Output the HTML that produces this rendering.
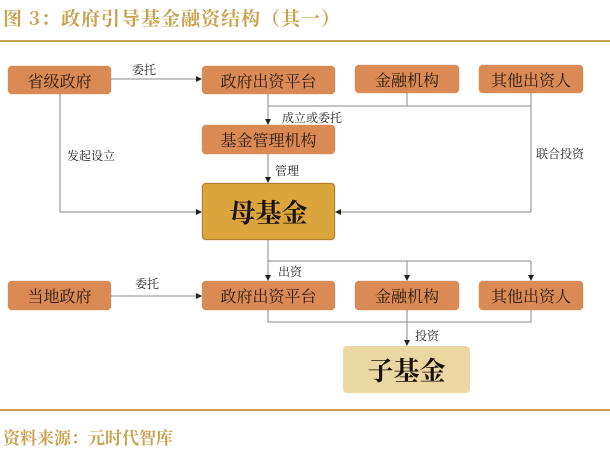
<!DOCTYPE html>
<html><head><meta charset="utf-8"><style>
body{margin:0;width:610px;height:451px;background:#fff;position:relative;overflow:hidden;font-family:"Liberation Serif","Noto Serif CJK SC",serif}
.t{position:absolute;white-space:nowrap}
.b{position:absolute;background:#d98a55;border-radius:4px;color:#2a1a10;font-size:16px;display:flex;align-items:center;justify-content:center;font-family:"Noto Serif CJK SC",serif;box-shadow:0 0 1px #b86a3a}
.l{font-size:12px;color:#222;font-family:"Noto Serif CJK SC",serif}
</style></head><body>
<div class="t" style="left:3px;top:4px;font-size:19px;color:#c9a24e;font-family:'Noto Serif CJK SC',serif;font-weight:bold;letter-spacing:1px">图 3：政府引导基金融资结构（其一）</div>
<div style="position:absolute;left:0;top:40px;width:610px;height:2px;background:#c9a24e"></div>
<svg width="610" height="451" style="position:absolute;left:0;top:0">
<defs><marker id="a" markerWidth="6" markerHeight="6" refX="5" refY="3" orient="auto"><path d="M0,0L6,3L0,6z" fill="#222"/></marker></defs>
<g stroke="#888" stroke-width="1" fill="none">
<line x1="111" y1="79" x2="201" y2="79" marker-end="url(#a)"/>
<line x1="268" y1="94" x2="268" y2="124" marker-end="url(#a)"/>
<polyline points="268,106 531,106"/>
<line x1="407" y1="93" x2="407" y2="106"/><line x1="531" y1="93" x2="531" y2="106"/>
<line x1="268" y1="154" x2="268" y2="182" marker-end="url(#a)"/>
<polyline points="60,94 60,212 201,212" marker-end="url(#a)"/>
<polyline points="531,106 531,212 336,212" marker-end="url(#a)"/>
<line x1="268" y1="240" x2="268" y2="280" marker-end="url(#a)"/>
<polyline points="268,261 531,261"/>
<line x1="407" y1="261" x2="407" y2="280" marker-end="url(#a)"/>
<line x1="531" y1="261" x2="531" y2="280" marker-end="url(#a)"/>
<line x1="111" y1="296" x2="201" y2="296" marker-end="url(#a)"/>
<polyline points="268,310 268,322 531,322 531,310"/>
<line x1="407" y1="310" x2="407" y2="345" marker-end="url(#a)"/>
</g></svg>
<div class="b" style="left:8px;top:66px;width:103px;height:28px">省级政府</div>
<div class="b" style="left:202px;top:66px;width:133px;height:28px">政府出资平台</div>
<div class="b" style="left:355px;top:65px;width:104px;height:28px">金融机构</div>
<div class="b" style="left:479px;top:65px;width:104px;height:28px">其他出资人</div>
<div class="b" style="left:202px;top:125px;width:133px;height:29px">基金管理机构</div>
<div class="b" style="left:202px;top:183px;width:133px;height:57px;background:#d9a53c;font-size:26px;font-weight:bold;color:#1a1008;border:1px solid #b08030;box-sizing:border-box">母基金</div>
<div class="b" style="left:8px;top:281px;width:103px;height:29px">当地政府</div>
<div class="b" style="left:202px;top:281px;width:133px;height:29px">政府出资平台</div>
<div class="b" style="left:355px;top:281px;width:104px;height:29px">金融机构</div>
<div class="b" style="left:479px;top:281px;width:104px;height:29px">其他出资人</div>
<div class="b" style="left:343px;top:346px;width:127px;height:47px;background:#ebd7a2;font-size:26px;font-weight:bold;color:#1a1008;box-shadow:none">子基金</div>
<div class="t l" style="left:132px;top:61px">委托</div>
<div class="t l" style="left:282px;top:109px">成立或委托</div>
<div class="t l" style="left:67px;top:147px">发起设立</div>
<div class="t l" style="left:536px;top:145px">联合投资</div>
<div class="t l" style="left:275px;top:162px">管理</div>
<div class="t l" style="left:278px;top:263px">出资</div>
<div class="t l" style="left:135px;top:275px">委托</div>
<div class="t l" style="left:415px;top:327px">投资</div>
<div style="position:absolute;left:0;top:409px;width:610px;height:2px;background:#c9a24e"></div>
<div class="t" style="left:3px;top:424px;font-size:17px;color:#c9a24e;font-weight:bold;font-family:'Noto Serif CJK SC',serif">资料来源：元时代智库</div>
</body></html>
